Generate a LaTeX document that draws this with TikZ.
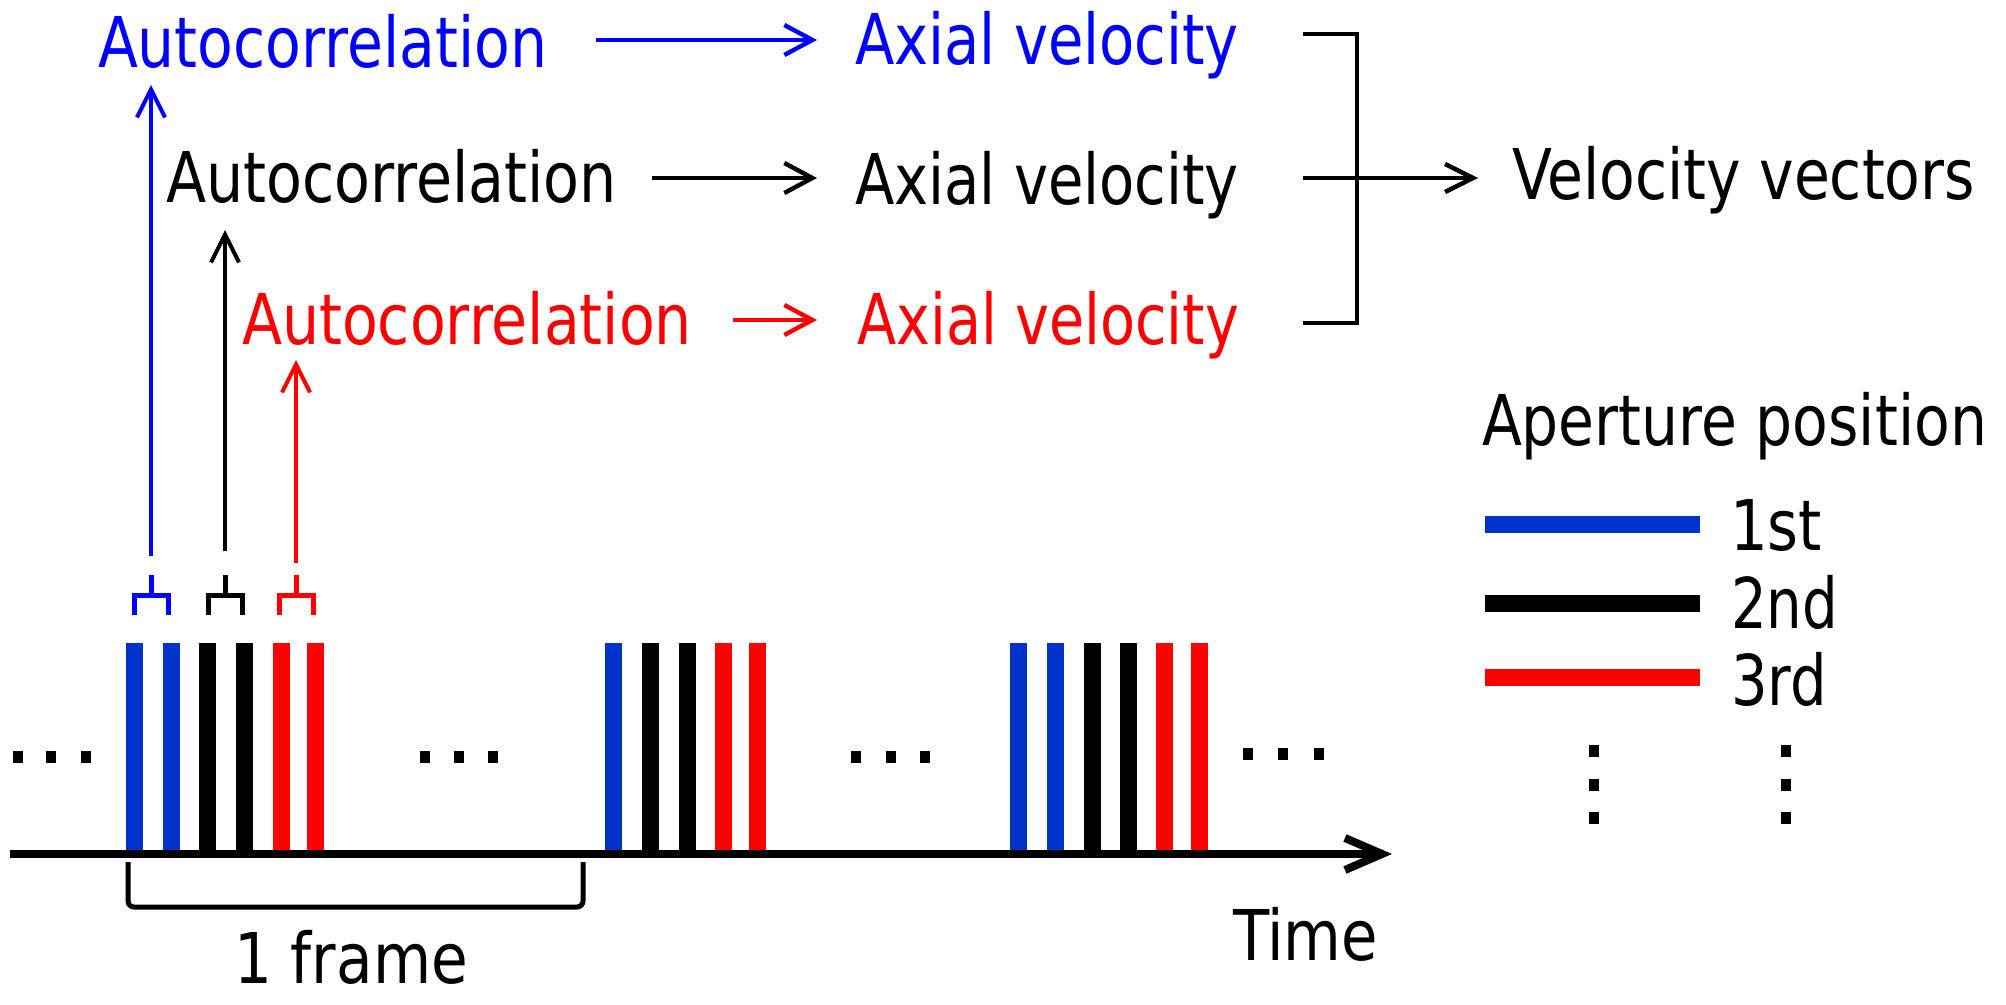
\documentclass[tikz,border=0pt]{standalone}
\usepackage{fontspec}
\setmainfont{DejaVu Sans}
\usepackage{graphicx}
\usetikzlibrary{arrows.meta}
\definecolor{tblue}{RGB}{0,0,255}
\definecolor{bblue}{RGB}{0,51,204}
\definecolor{tred}{RGB}{255,0,0}
\newcommand\tx[2]{\resizebox{#1pt}{\height}{#2}}
\newcommand\sqdot[2]{\fill ({#1-5},{#2-6}) rectangle ({#1+5},{#2+6});}
\begin{document}
\begin{tikzpicture}[x=0.5pt,y=-0.5pt,
  lbl/.style={anchor=base west, inner sep=0pt, outer sep=0pt, font=\fontsize{35pt}{42pt}\selectfont},
  flow/.style={line width=2.2pt, -{Straight Barb[length=14pt,width=15pt]}},
  upflow/.style={line width=2pt, -{Straight Barb[length=14pt,width=14pt]}},
  forkline/.style={line width=2.5pt},
  bar/.style={line width=8.5pt},
  legline/.style={line width=8.5pt},
  axisline/.style={line width=4pt, -{Straight Barb[length=18.5pt,width=16pt]}},
  brack/.style={line width=2.2pt}]
\path[use as bounding box] (0,0) rectangle (2006,1005);

% ---- text nodes ----
\node[lbl, text=tblue] (autoB) at (98,68) {\tx{224.5}{Autocorrelation}};
\node[lbl, text=black] (autoK) at (166,203) {\tx{225.5}{Autocorrelation}};
\node[lbl, text=tred]  (autoR) at (242,345) {\tx{225}{Autocorrelation}};
\node[lbl, text=tblue] (axB) at (855,65) {\tx{192}{Axial velocity}};
\node[lbl, text=black] (axK) at (855,205) {\tx{192}{Axial velocity}};
\node[lbl, text=tred]  (axR) at (857,345) {\tx{191}{Axial velocity}};
\node[lbl] (vv) at (1512,200) {\tx{231.5}{Velocity vectors}};
\node[lbl] (ap) at (1482,445) {\tx{252.5}{Aperture position}};
\node[lbl] (l1) at (1730,550) {\tx{46}{1st}};
\node[lbl] (l2) at (1731,628) {\tx{53.5}{2nd}};
\node[lbl] (l3) at (1731,705) {\tx{48}{3rd}};
\node[lbl] (time) at (1233,960) {\tx{72.5}{Time}};
\node[lbl] (frame) at (234,983) {\tx{117}{1 frame}};

% ---- horizontal flow arrows ----
\coordinate (aB1) at (596,40);  \coordinate (aB2) at (817,40);
\coordinate (aK1) at (652,178); \coordinate (aK2) at (817,178);
\coordinate (aR1) at (733,320); \coordinate (aR2) at (817,320);
\draw[flow, tblue] (aB1) -- (aB2);
\draw[flow, black] (aK1) -- (aK2);
\draw[flow, tred]  (aR1) -- (aR2);

% ---- bracket collecting the axial velocities ----
\coordinate (bT) at (1303,34);
\coordinate (bB) at (1303,323);
\coordinate (bM) at (1303,178);
\coordinate (bV) at (1478,178);
\draw[brack] (bT) -- (1357,34) -- (1357,323) -- (bB);
\draw[brack, -{Straight Barb[length=14pt,width=14pt]}] (bM) -- (bV);

% ---- up arrows from forks to autocorrelations ----
\coordinate (uB0) at (151,556); \coordinate (uB1) at (151,85);
\coordinate (uK0) at (225,551); \coordinate (uK1) at (225,230);
\coordinate (uR0) at (296,563); \coordinate (uR1) at (296,360);
\draw[upflow, tblue] (uB0) -- (uB1);
\draw[upflow, black] (uK0) -- (uK1);
\draw[upflow, tred]  (uR0) -- (uR1);

% ---- forks ----
\draw[forkline, tblue] (151,575) -- (151,595);
\draw[forkline, tblue] (134,615) -- (134,595) -- (168,595) -- (168,615);
\draw[forkline, black] (225,575) -- (225,595);
\draw[forkline, black] (208,615) -- (208,595) -- (242,595) -- (242,615);
\draw[forkline, tred] (296,575) -- (296,595);
\draw[forkline, tred] (279,615) -- (279,595) -- (313,595) -- (313,615);

% ---- pulse bars ----
\foreach \x in {134.5,171} {\draw[bar, bblue] (\x,643) -- (\x,852);}
\foreach \x in {207.5,244.5} {\draw[bar, black] (\x,643) -- (\x,852);}
\foreach \x in {281.5,315} {\draw[bar, tred] (\x,643) -- (\x,852);}
\foreach \x in {613} {\draw[bar, bblue] (\x,643) -- (\x,852);}
\foreach \x in {650,687} {\draw[bar, black] (\x,643) -- (\x,852);}
\foreach \x in {723,757} {\draw[bar, tred] (\x,643) -- (\x,852);}
\foreach \x in {1018,1055} {\draw[bar, bblue] (\x,643) -- (\x,852);}
\foreach \x in {1092,1128} {\draw[bar, black] (\x,643) -- (\x,852);}
\foreach \x in {1164,1199} {\draw[bar, tred] (\x,643) -- (\x,852);}

% ---- time axis ----
\coordinate (ax0) at (10,854);
\coordinate (ax1) at (1392,854);
\draw[axisline] (ax0) -- (ax1);

% ---- 1 frame bracket ----
\draw[brack, line width=2.5pt, rounded corners=3pt] (128,862) -- (128,907) -- (583,907) -- (583,862);

% ---- ellipses ----
\sqdot{18}{757}\sqdot{51}{757}\sqdot{86}{757}
\sqdot{425}{757}\sqdot{459}{757}\sqdot{493}{757}
\sqdot{856}{757}\sqdot{891}{757}\sqdot{925}{757}
\sqdot{1248}{754}\sqdot{1283}{754}\sqdot{1319}{754}

% ---- legend ----
\draw[legline, bblue] (1485,524) -- (1700,524);
\draw[legline, black] (1485,603) -- (1700,603);
\draw[legline, tred]  (1485,677) -- (1700,677);
\sqdot{1594}{751}\sqdot{1594}{785}\sqdot{1594}{818}
\sqdot{1786}{751}\sqdot{1786}{785}\sqdot{1786}{818}
\end{tikzpicture}
\end{document}
